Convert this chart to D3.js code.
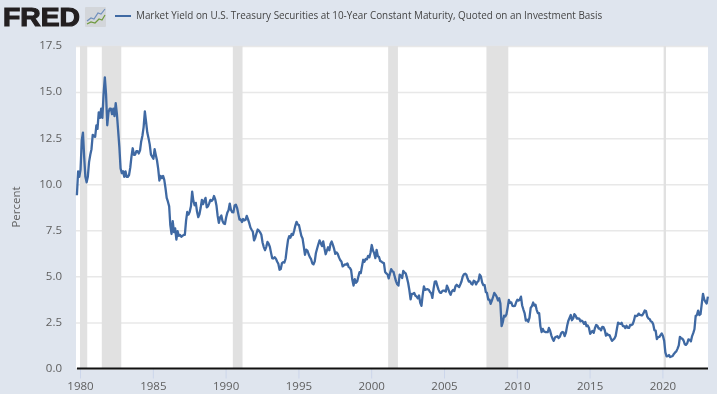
<!DOCTYPE html>
<html>
<head>
<meta charset="utf-8">
<script src="https://cdn.jsdelivr.net/npm/d3@7"></script>
<style>
  html, body { margin: 0; padding: 0; background: #dfe5ee; overflow: hidden; }
  text { font-family: "Open Sans", sans-serif; }
  /* reference is a slightly soft screenshot */
  #chart { display: block; filter: blur(0.3px); }
</style>
</head>
<body>
<svg id="chart" width="717" height="394"></svg>
<script>
const seriesName = "Market Yield on U.S. Treasury Securities at 10-Year Constant Maturity, Quoted on an Investment Basis";
const yAxisLabel = "Percent";
const yTicks = [0, 2.5, 5, 7.5, 10, 12.5, 15, 17.5];
const xTickYears = [1980, 1985, 1990, 1995, 2000, 2005, 2010, 2015, 2020];

// recession bands, [start, end] as "YYYY-MM"
const recessions = [
  ["1980-01", "1980-07"],
  ["1981-07", "1982-11"],
  ["1990-07", "1991-03"],
  ["2001-03", "2001-11"],
  ["2007-12", "2009-06"],
  ["2020-02", "2020-04"],
];

// monthly yields, first value is Oct 1979
const firstMonth = new Date(1979, 9, 1);
const yields = [
  9.4, 10.7, 10.4,
  10.8, 12.4, 12.8, 11.47, 10.4, 10.1, 10.4, 11.2, 11.6, 11.9, 12.68, 12.6,
  12.57, 13.19, 13.0, 13.9, 13.6, 14.1, 13.6, 14.9, 15.8, 14.9, 13.2, 13.9,
  14.1, 14.1, 13.8, 14.1, 13.7, 14.4, 13.8, 12.9, 12.0, 10.85, 10.6, 10.7,
  10.4, 10.7, 10.4, 10.4, 10.5, 10.9, 11.5, 11.95, 11.6, 11.6, 11.8, 11.8,
  11.67, 11.84, 12.32, 12.63, 13.1, 13.95, 13.4, 12.8, 12.5, 12.16, 11.6, 11.5,
  11.38, 11.9, 11.6, 11.3, 10.85, 10.2, 10.45, 10.33, 10.45, 10.24, 9.78, 9.26,
  9.05, 8.8, 7.8, 7.3, 8.0, 7.4, 7.6, 7.0, 7.45, 7.2, 7.25, 7.15,
  7.2, 7.25, 7.25, 8.02, 8.5, 8.35, 8.5, 8.8, 9.6, 9.1, 8.86, 8.99,
  8.5, 8.21, 8.37, 8.72, 9.15, 8.92, 9.1, 9.26, 8.75, 8.8, 8.96, 9.15,
  9.09, 9.17, 9.36, 9.18, 8.86, 8.28, 7.9, 8.2, 8.3, 8.0, 7.87, 7.84,
  8.21, 8.47, 8.59, 8.95, 8.6, 8.48, 8.47, 8.85, 8.89, 8.72, 8.39, 8.08,
  8.09, 7.95, 8.11, 8.04, 8.07, 8.28, 8.1, 7.9, 7.65, 7.53, 7.42, 6.95,
  7.1, 7.34, 7.54, 7.48, 7.39, 7.26, 6.84, 6.59, 6.42, 6.59, 6.87, 6.77,
  6.6, 6.26, 5.98, 5.97, 6.04, 5.96, 5.81, 5.68, 5.36, 5.4, 5.72, 5.77,
  5.75, 5.97, 6.48, 6.97, 7.18, 7.1, 7.3, 7.24, 7.46, 7.74, 7.96, 7.81,
  7.78, 7.47, 7.2, 7.06, 6.63, 6.17, 6.45, 6.4, 6.2, 6.04, 5.93, 5.71,
  5.65, 5.81, 6.27, 6.51, 6.74, 6.95, 6.8, 6.64, 6.9, 6.53, 6.2, 6.4,
  6.58, 6.42, 6.75, 6.89, 6.71, 6.49, 6.22, 6.3, 6.21, 6.03, 5.88, 5.81,
  5.54, 5.6, 5.65, 5.64, 5.7, 5.5, 5.46, 5.34, 4.81, 4.5, 4.85, 4.65,
  4.72, 5.0, 5.23, 5.18, 5.54, 5.9, 5.79, 5.94, 5.92, 6.11, 6.03, 6.28,
  6.7, 6.4, 6.26, 5.99, 6.44, 6.1, 6.05, 5.83, 5.8, 5.74, 5.72, 5.24,
  5.16, 5.1, 4.89, 5.14, 5.39, 5.28, 5.24, 4.97, 4.73, 4.57, 4.5, 5.09,
  5.04, 4.91, 5.3, 5.21, 5.16, 4.93, 4.65, 4.26, 3.75, 4.05, 4.05, 4.1,
  3.95, 3.9, 3.81, 3.96, 3.57, 3.4, 3.98, 4.45, 4.27, 4.29, 4.3, 4.27,
  4.15, 4.08, 3.83, 4.35, 4.72, 4.73, 4.5, 4.28, 4.13, 4.1, 4.19, 4.23,
  4.22, 4.17, 4.5, 4.34, 4.14, 4.0, 4.18, 4.26, 4.2, 4.46, 4.54, 4.47,
  4.42, 4.57, 4.72, 4.99, 5.11, 5.14, 5.09, 4.88, 4.72, 4.73, 4.6, 4.56,
  4.76, 4.72, 4.56, 4.69, 4.75, 5.1, 5.0, 4.67, 4.52, 4.53, 4.15, 4.1,
  3.74, 3.74, 3.51, 3.68, 3.88, 4.1, 4.01, 3.89, 3.69, 3.81, 3.53, 2.3,
  2.52, 2.87, 2.82, 2.93, 3.29, 3.72, 3.56, 3.59, 3.4, 3.39, 3.4, 3.59,
  3.73, 3.69, 3.73, 3.9, 3.42, 3.2, 3.01, 2.6, 2.65, 2.54, 2.76, 3.29,
  3.39, 3.58, 3.41, 3.46, 3.17, 3.0, 3.0, 2.3, 1.98, 2.15, 2.01, 1.98,
  1.97, 1.97, 2.2, 2.05, 1.8, 1.62, 1.5, 1.68, 1.72, 1.75, 1.65, 1.72,
  1.91, 1.98, 1.96, 1.76, 1.93, 2.3, 2.58, 2.74, 2.9, 2.62, 2.72, 2.95,
  2.86, 2.71, 2.72, 2.71, 2.56, 2.6, 2.54, 2.42, 2.53, 2.3, 2.33, 2.21,
  1.88, 1.98, 2.04, 1.94, 2.2, 2.36, 2.32, 2.17, 2.17, 2.07, 2.26, 2.24,
  2.09, 1.78, 1.89, 1.81, 1.81, 1.64, 1.5, 1.56, 1.63, 1.76, 2.14, 2.49,
  2.43, 2.42, 2.48, 2.3, 2.3, 2.19, 2.32, 2.21, 2.2, 2.36, 2.35, 2.4,
  2.58, 2.86, 2.84, 2.87, 2.98, 2.91, 2.89, 2.89, 3.0, 3.15, 3.12, 2.83,
  2.71, 2.68, 2.57, 2.53, 2.4, 2.07, 2.06, 1.6, 1.7, 1.71, 1.81, 1.9,
  1.76, 1.5, 0.87, 0.66, 0.67, 0.73, 0.62, 0.65, 0.68, 0.79, 0.87, 0.93,
  1.08, 1.26, 1.72, 1.64, 1.62, 1.52, 1.32, 1.28, 1.37, 1.58, 1.56, 1.47,
  1.76, 1.93, 2.13, 2.85, 2.9, 3.14, 2.9, 2.95, 3.52, 4.05, 3.75, 3.62,
  3.53, 3.9,
];

const logoBlue = [2, 14, 6, 11, 9, 12, 13, 6, 16, 7, 20, 2];
const logoGreen = [2, 17, 6, 15, 10, 16, 14, 12, 17, 13, 20, 8];

const plotLeft = 76;
const plotRight = 708;

const svg = d3.select("#chart");

const xScale = d3.scaleTime()
  .domain([new Date(1980, 0, 1), new Date(2020, 0, 1)])
  .range([80, 662.4]);
const yScale = d3.scaleLinear().domain([0, 17.5]).range([368.5, 46]);

const parseMonth = d3.timeParse("%Y-%m");
const points = yields.map((v, i) => ({
  // weekly-looking line sits around the middle of each month
  date: new Date(firstMonth.getFullYear(), firstMonth.getMonth() + i, 15),
  value: v,
}));

// plot background
svg.append("rect")
  .attr("x", plotLeft)
  .attr("y", yScale(17.5))
  .attr("width", plotRight - plotLeft)
  .attr("height", yScale(0) - yScale(17.5))
  .attr("fill", "#fff");

// gridlines through the y axis
const yAxis = svg.append("g")
  .attr("class", "yAxis")
  .attr("transform", `translate(${plotLeft},0)`)
  .call(
    d3.axisLeft(yScale)
      .tickValues(yTicks)
      .tickSize(-(plotRight - plotLeft))
      .tickPadding(14)
      .tickFormat(d3.format(".1f"))
  );
yAxis.select(".domain").remove();
yAxis.selectAll("line").attr("stroke", "#e8e8e8").attr("stroke-width", 1.5);
yAxis.selectAll("text")
  .attr("fill", "#5f5f5f")
  .attr("dy", "0.25em")
  .style("font-size", "11.5px");

// recessions
svg.append("g")
  .selectAll("rect")
  .data(recessions)
  .join("rect")
  .attr("x", (d) => xScale(parseMonth(d[0])))
  .attr("y", yScale(17.5))
  .attr("width", (d) => xScale(parseMonth(d[1])) - xScale(parseMonth(d[0])))
  .attr("height", yScale(0) - yScale(17.5))
  .attr("fill", "#e1e1e1");

// x axis
const xAxis = svg.append("g")
  .attr("class", "xAxis")
  .attr("transform", `translate(0,${yScale(0)})`)
  .call(
    d3.axisBottom(xScale)
      .tickValues(xTickYears.map((y) => new Date(y, 0, 1)))
      .tickSize(10)
      .tickPadding(3)
      .tickFormat(d3.timeFormat("%Y"))
  );
xAxis.select(".domain").remove();
xAxis.selectAll("line").attr("stroke", "#ccd6eb");
xAxis.selectAll("text")
  .attr("fill", "#5f5f5f")
  .style("font-size", "11.5px");

svg.append("line")
  .attr("x1", plotLeft + 1)
  .attr("x2", plotRight)
  .attr("y1", yScale(0))
  .attr("y2", yScale(0))
  .attr("stroke", "#111")
  .attr("stroke-width", 2);

// the series
const line = d3.line()
  .x((d) => xScale(d.date))
  .y((d) => yScale(d.value));
svg.append("path")
  .datum(points)
  .attr("d", line)
  .attr("fill", "none")
  .attr("stroke", "#3f69a3")
  .attr("stroke-width", 2.3)
  .attr("stroke-linejoin", "round");

svg.append("text")
  .text(yAxisLabel)
  .attr("transform", "translate(20,207) rotate(270)")
  .attr("text-anchor", "middle")
  .attr("fill", "#5f5f5f")
  .style("font-size", "11.5px");

// legend
svg.append("line")
  .attr("x1", 115)
  .attr("x2", 131)
  .attr("y1", 16)
  .attr("y2", 16)
  .attr("stroke", "#3f69a3")
  .attr("stroke-width", 2);
svg.append("text")
  .text(seriesName)
  .attr("x", 136)
  .attr("y", 19)
  .attr("fill", "#444")
  .style("font-size", "9.9px");

// logo
svg.append("text")
  .text("FRED")
  .attr("x", 3)
  .attr("y", 26)
  .attr("textLength", 77)
  .attr("lengthAdjust", "spacingAndGlyphs")
  .attr("fill", "#231f20")
  .attr("stroke", "#231f20")
  .attr("stroke-width", 1.1)
  .style("font-family", "'Liberation Sans', sans-serif")
  .style("font-weight", "700")
  .style("font-size", "25px");

const logo = svg.append("g").attr("transform", "translate(85,7)");
logo.append("rect")
  .attr("width", 21)
  .attr("height", 20)
  .attr("rx", 1)
  .attr("fill", "#d3d6da");
const pairs = (a) => d3.range(0, a.length, 2).map((i) => [a[i], a[i + 1]]);
logo.append("path")
  .attr("d", d3.line()(pairs(logoBlue)))
  .attr("fill", "none")
  .attr("stroke", "#6f8fbd")
  .attr("stroke-width", 1.2);
logo.append("path")
  .attr("d", d3.line()(pairs(logoGreen)))
  .attr("fill", "none")
  .attr("stroke", "#6f9a3f")
  .attr("stroke-width", 1.2);
</script>
</body>
</html>
